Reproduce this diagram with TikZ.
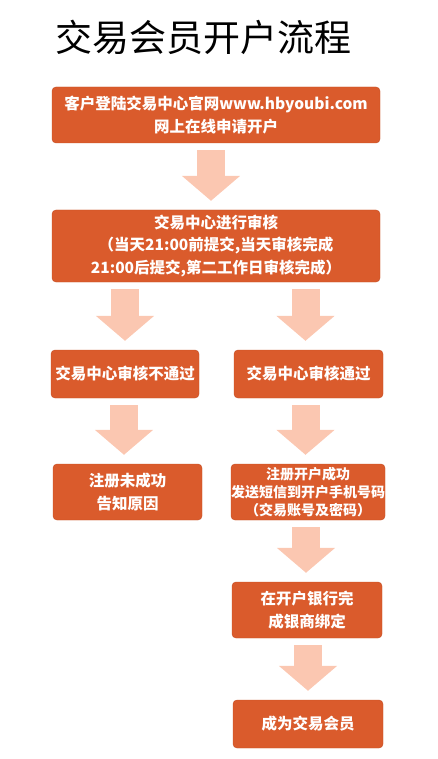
\documentclass[tikz,border=0pt]{standalone}
\usepackage{fontspec}
\newfontfamily\cjk{Noto Sans CJK SC}
\usetikzlibrary{arrows.meta}
\definecolor{boxc}{RGB}{218,91,44}
\definecolor{boxd}{RGB}{196,76,34}
\definecolor{arrc}{RGB}{251,199,177}
\tikzset{
  stepbox/.style={draw=boxd, fill=boxc, rounded corners=4pt, inner sep=0pt, text=white, align=center,
    font={\cjk\bfseries\fontsize{15.5}{22.5}\selectfont}},
  flow/.style={draw=arrc, line width=28pt, shorten <=7pt, shorten >=9pt,
    -{Triangle[width=57pt,length=25pt]}},
}
\begin{document}
\begin{tikzpicture}[x=1pt,y=-1pt]
\useasboundingbox (0,0) rectangle (438,759);
\node[font={\cjk\fontsize{37}{42}\selectfont}] (title) at (203,37) {交易会员开户流程};
\node[stepbox, minimum width=328, minimum height=56] (b1) at (216,115) {客户登陆交易中心官网www.hbyoubi.com\\网上在线申请开户};
\node[stepbox, minimum width=328, minimum height=72] (b2) at (216,246) {交易中心进行审核\\（当天21:00前提交,当天审核完成\\21:00后提交,第二工作日审核完成）};
\node[stepbox, minimum width=148, minimum height=48] (b3l) at (125,374) {交易中心审核不通过};
\node[stepbox, minimum width=149, minimum height=48] (b3r) at (308.5,374) {交易中心审核通过};
\node[stepbox, minimum width=149, minimum height=56] (b4l) at (127.5,492) {注册未成功\\告知原因};
\node[stepbox, minimum width=150, minimum height=56, font={\cjk\bfseries\fontsize{14}{18}\selectfont}] (b4r) at (308,492) {注册开户成功\\发送短信到开户手机号码\\（交易账号及密码）};
\node[stepbox, minimum width=150, minimum height=56] (b5) at (307,610) {在开户银行完\\成银商绑定};
\node[stepbox, minimum width=150, minimum height=48] (b6) at (308,724) {成为交易会员};
\draw[flow] ([xshift=-5pt]b1.south) -- ([xshift=-5pt]b1.south |- b2.north);
\draw[flow] (b3l.north |- b2.south) -- (b3l.north);
\draw[flow] ([xshift=-3pt]b3r.north |- b2.south) -- ([xshift=-3pt]b3r.north);
\draw[flow] ([xshift=-1pt]b3l.south) -- ([xshift=-1pt]b3l.south |- b4l.north);
\draw[flow] ([xshift=-3pt]b3r.south) -- ([xshift=-3pt]b3r.south |- b4r.north);
\draw[flow] ([xshift=-2pt]b4r.south) -- ([xshift=-2pt]b4r.south |- b5.north);
\draw[flow] ([xshift=1pt]b5.south) -- ([xshift=1pt]b5.south |- b6.north);
\end{tikzpicture}
\end{document}
